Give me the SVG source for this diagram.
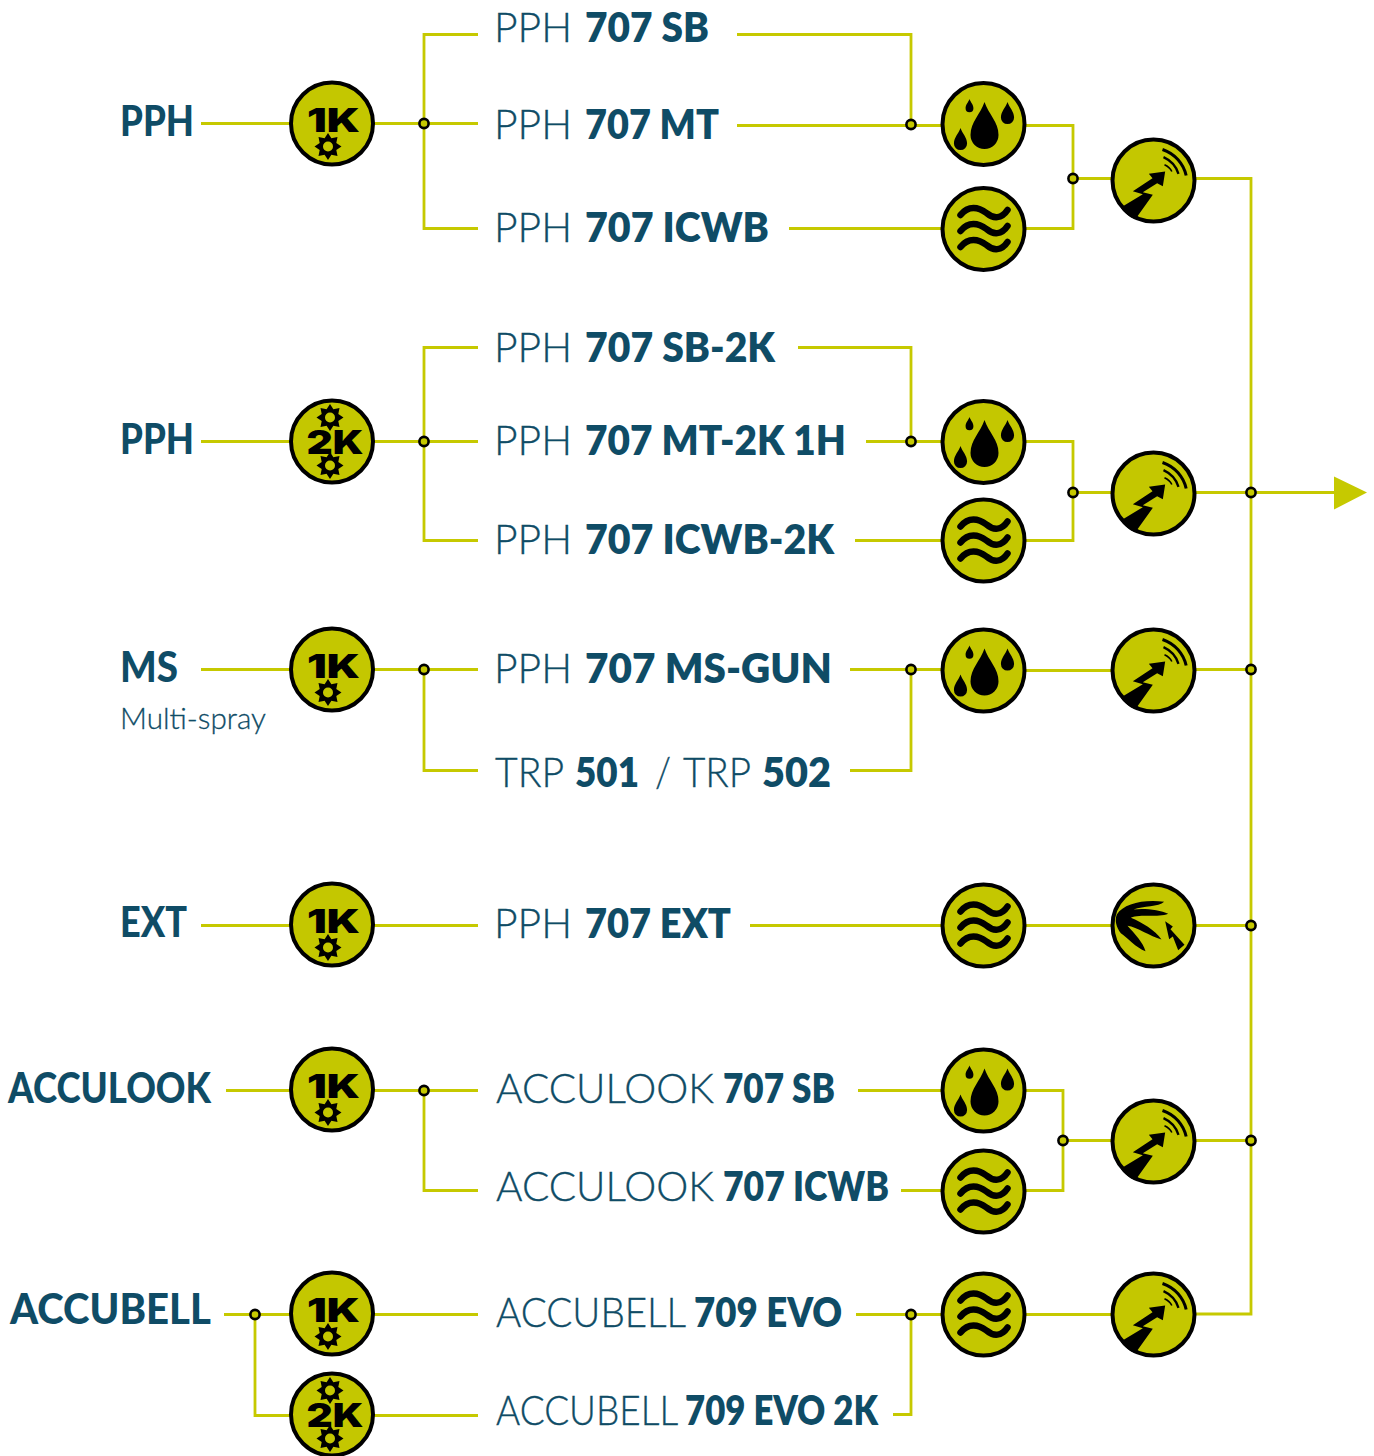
<svg xmlns="http://www.w3.org/2000/svg" xmlns:xlink="http://www.w3.org/1999/xlink" width="1374" height="1456" viewBox="0 0 1374 1456">
<style>
.c{fill:none;stroke:#c6c900;stroke-width:2.8}
.d{fill:#c6c900;stroke:#000;stroke-width:2.6}
.b{fill:#c4c700;stroke:#000;stroke-width:4}
.l{font-family:Lato,"Liberation Sans",sans-serif;font-size:41px;fill:#0f4c66;font-weight:300;stroke:#0f4c66;stroke-width:.35px}
.l .t{font-weight:800;stroke:none}
.h{font-family:Lato,"Liberation Sans",sans-serif;font-size:42px;fill:#0f4c66;font-weight:900}
.s{font-family:Lato,"Liberation Sans",sans-serif;font-size:29px;fill:#0f4c66;font-weight:300;stroke:#0f4c66;stroke-width:.3px}
.k{font-family:Inter,"Liberation Sans",sans-serif;font-size:33px;font-weight:900;fill:#000}
.w{fill:none;stroke:#000;stroke-width:6.500;stroke-linecap:round}
.a{fill:none;stroke:#000}
</style>
<defs>
<g id="gear"><path d="M0-13.500 3.400-8.300 9.500-9.500 8.300-3.400 13.500 0 8.300 3.400 9.500 9.500 3.400 8.300 0 13.500-3.400 8.300-9.500 9.500-8.300 3.400-13.500 0-8.300-3.400-9.500-9.500-3.400-8.300Z"/><circle r="5" fill="#c4c700"/></g>
<circle id="disc" class="b" r="41"/>
<path id="drop" d="M0 0C4 12 14 20 14 33A14 14 0 0 1-14 33C-14 20-4 12 0 0Z"/>
<g id="i1k"><use xlink:href="#disc"/><use xlink:href="#gear" x="-4" y="23"/></g>
<g id="i2k"><use xlink:href="#disc"/><use xlink:href="#gear" x="-2" y="-24"/><use xlink:href="#gear" x="-2" y="24"/></g>
<g id="idrops"><use xlink:href="#disc"/><use xlink:href="#drop" transform="translate(1 -22)"/><use xlink:href="#drop" transform="translate(-23 4) scale(.47)"/><use xlink:href="#drop" transform="translate(-14 -25) scale(.28)"/><use xlink:href="#drop" transform="translate(24 -22) scale(.47)"/></g>
<g id="iwave"><use xlink:href="#disc"/><path class="w" d="M-23-14C-15-24-5-22 3-16 10-10 18-10 24-19"/><path class="w" d="M-23 2C-15-8-5-6 3 0 10 6 18 6 24-3"/><path class="w" d="M-23 18C-15 8-5 10 3 16 10 22 18 22 24 13"/></g>
<g id="ispray"><use xlink:href="#disc"/><g transform="scale(.3333) translate(-160 -145)"><path d="M195 118 146 125 157 138 98 177 128 186 62 226C75 245 88 255 105 262L158 188 128 180 171 153 188 162Z"/><path class="a" stroke-width="9" d="M187 52C225 65 250 95 258 130"/><path class="a" stroke-width="7" d="M190 75C212 85 228 103 235 125"/><path class="a" stroke-width="5" d="M193 98C204 103 211 110 215 118"/></g></g>
<g id="ifan"><use xlink:href="#disc"/><g transform="scale(.3333) translate(-160 -145)"><path d="M50 112C70 80 130 66 192 74 175 90 130 86 100 97 130 92 180 98 204 110 175 122 120 110 92 122 125 135 165 160 184 187 150 178 110 150 82 146 105 172 128 195 136 222 108 212 80 180 62 168 48 150 43 130 50 112Z"/><path d="M195 132 218 148 211 156 253 203 234 219 218 178 207 186Z"/></g></g>
</defs>
<g id="connectors" transform="translate(0 .5)">
<path class="c" d="M201 123H290M374 123H478M478 34H424V228H478M737 34H911V124M737 125H942M1026 125H1073V228H1026M942 228H789M1073 178H1112M1195 178H1251V1313.500H1195"/>
<path class="c" d="M201 441H290M374 441H478M478 347H424V540H478M798 347H911V441M866 441H942M1026 441H1073V540H1026M942 540H855M1073 492H1112M1195 492H1335"/>
<path class="c" d="M201 669H290M374 669H478M424 669V770H478M850 669H942M911 669V770H850M1025 670H1112M1195 669H1251"/>
<path class="c" d="M201 925H290M374 925H478M750 925H942M1025 925H1112M1195 925H1251"/>
<path class="c" d="M226 1090H290M374 1090H478M424 1090V1190H478M858 1090H942M1025 1090H1063V1190H1025M942 1190H901M1063 1140H1112M1195 1140H1251"/>
<path class="c" d="M224 1314H290M255 1314V1415H290M374 1314H478M374 1415H478M856 1314H942M911 1314V1414H893M1025 1314H1112"/>
<polygon points="1334,476 1367,492 1334,509" fill="#c6c900"/>
<g id="dots">
<circle class="d" r="4.600" cx="424" cy="123"/><circle class="d" r="4.600" cx="911" cy="124"/><circle class="d" r="4.600" cx="1073" cy="178"/>
<circle class="d" r="4.600" cx="424" cy="441"/><circle class="d" r="4.600" cx="911" cy="441"/><circle class="d" r="4.600" cx="1073" cy="492"/><circle class="d" r="4.600" cx="1251" cy="492"/>
<circle class="d" r="4.600" cx="424" cy="669"/><circle class="d" r="4.600" cx="911" cy="669"/><circle class="d" r="4.600" cx="1251" cy="669"/>
<circle class="d" r="4.600" cx="1251" cy="925"/>
<circle class="d" r="4.600" cx="424" cy="1090"/><circle class="d" r="4.600" cx="1063" cy="1140"/><circle class="d" r="4.600" cx="1251" cy="1140"/>
<circle class="d" r="4.600" cx="255" cy="1314"/><circle class="d" r="4.600" cx="911" cy="1314"/>
</g>
</g>
<g id="group-labels">
<text class="h" x="120" y="136" textLength="74" lengthAdjust="spacingAndGlyphs">PPH</text>
<text class="h" x="120" y="454" textLength="74" lengthAdjust="spacingAndGlyphs">PPH</text>
<text class="h" x="120" y="682" textLength="58" lengthAdjust="spacingAndGlyphs">MS</text>
<text class="s" x="120" y="729" textLength="146" lengthAdjust="spacingAndGlyphs">Multi-spray</text>
<text class="h" x="120" y="937" textLength="67" lengthAdjust="spacingAndGlyphs">EXT</text>
<text class="h" x="8" y="1103" textLength="203" lengthAdjust="spacingAndGlyphs">ACCULOOK</text>
<text class="h" x="10" y="1324" textLength="201" lengthAdjust="spacingAndGlyphs">ACCUBELL</text>
</g>
<g id="labels">
<text class="l" y="42"><tspan x="494" textLength="78" lengthAdjust="spacingAndGlyphs">PPH</tspan> <tspan class="t" x="585" textLength="124" lengthAdjust="spacingAndGlyphs">707 SB</tspan></text>
<text class="l" y="139"><tspan x="494" textLength="78" lengthAdjust="spacingAndGlyphs">PPH</tspan> <tspan class="t" x="585" textLength="134" lengthAdjust="spacingAndGlyphs">707 MT</tspan></text>
<text class="l" y="242"><tspan x="494" textLength="78" lengthAdjust="spacingAndGlyphs">PPH</tspan> <tspan class="t" x="585" textLength="184" lengthAdjust="spacingAndGlyphs">707 ICWB</tspan></text>
<text class="l" y="362"><tspan x="494" textLength="78" lengthAdjust="spacingAndGlyphs">PPH</tspan> <tspan class="t" x="585" textLength="190" lengthAdjust="spacingAndGlyphs">707 SB-2K</tspan></text>
<text class="l" y="455"><tspan x="494" textLength="78" lengthAdjust="spacingAndGlyphs">PPH</tspan> <tspan class="t" x="585" textLength="261" lengthAdjust="spacingAndGlyphs">707 MT-2K 1H</tspan></text>
<text class="l" y="554"><tspan x="494" textLength="78" lengthAdjust="spacingAndGlyphs">PPH</tspan> <tspan class="t" x="585" textLength="249" lengthAdjust="spacingAndGlyphs">707 ICWB-2K</tspan></text>
<text class="l" y="683"><tspan x="494" textLength="78" lengthAdjust="spacingAndGlyphs">PPH</tspan> <tspan class="t" x="585" textLength="247" lengthAdjust="spacingAndGlyphs">707 MS-GUN</tspan></text>
<text class="l" y="787"><tspan x="495" textLength="68" lengthAdjust="spacingAndGlyphs">TRP</tspan> <tspan class="t" x="575" textLength="64" lengthAdjust="spacingAndGlyphs">501</tspan> <tspan x="655" textLength="16" lengthAdjust="spacingAndGlyphs">/</tspan> <tspan x="683" textLength="67" lengthAdjust="spacingAndGlyphs">TRP</tspan> <tspan class="t" x="762" textLength="69" lengthAdjust="spacingAndGlyphs">502</tspan></text>
<text class="l" y="938"><tspan x="494" textLength="78" lengthAdjust="spacingAndGlyphs">PPH</tspan> <tspan class="t" x="585" textLength="146" lengthAdjust="spacingAndGlyphs">707 EXT</tspan></text>
<text class="l" y="1103"><tspan x="496" textLength="218" lengthAdjust="spacingAndGlyphs">ACCULOOK</tspan> <tspan class="t" x="723" textLength="112" lengthAdjust="spacingAndGlyphs">707 SB</tspan></text>
<text class="l" y="1201"><tspan x="496" textLength="218" lengthAdjust="spacingAndGlyphs">ACCULOOK</tspan> <tspan class="t" x="723" textLength="166" lengthAdjust="spacingAndGlyphs">707 ICWB</tspan></text>
<text class="l" y="1327"><tspan x="496" textLength="189" lengthAdjust="spacingAndGlyphs">ACCUBELL</tspan> <tspan class="t" x="694" textLength="148" lengthAdjust="spacingAndGlyphs">709 EVO</tspan></text>
<text class="l" y="1425"><tspan x="496" textLength="181" lengthAdjust="spacingAndGlyphs">ACCUBELL</tspan> <tspan class="t" x="685" textLength="193" lengthAdjust="spacingAndGlyphs">709 EVO 2K</tspan></text>
</g>
<g id="n-1k-a" transform="translate(332 123.500)"><use xlink:href="#i1k"/><text class="k" x="-25" y="8.500" textLength="53" lengthAdjust="spacingAndGlyphs">1K</text></g>
<g id="n-2k-a" transform="translate(332 441.500)"><use xlink:href="#i2k"/><text class="k" x="-25.500" y="12.500" textLength="57" lengthAdjust="spacingAndGlyphs">2K</text></g>
<g id="n-1k-b" transform="translate(332 669.500)"><use xlink:href="#i1k"/><text class="k" x="-25" y="8.500" textLength="53" lengthAdjust="spacingAndGlyphs">1K</text></g>
<g id="n-1k-c" transform="translate(332 924.500)"><use xlink:href="#i1k"/><text class="k" x="-25" y="8.500" textLength="53" lengthAdjust="spacingAndGlyphs">1K</text></g>
<g id="n-1k-d" transform="translate(332 1089.500)"><use xlink:href="#i1k"/><text class="k" x="-25" y="8.500" textLength="53" lengthAdjust="spacingAndGlyphs">1K</text></g>
<g id="n-1k-e" transform="translate(332 1313.500)"><use xlink:href="#i1k"/><text class="k" x="-25" y="8.500" textLength="53" lengthAdjust="spacingAndGlyphs">1K</text></g>
<g id="n-2k-b" transform="translate(332 1414.500)"><use xlink:href="#i2k"/><text class="k" x="-25.500" y="12.500" textLength="57" lengthAdjust="spacingAndGlyphs">2K</text></g>
<g id="n-drops-a" transform="translate(983.500 124)"><use xlink:href="#idrops"/></g>
<g id="n-wave-a" transform="translate(983.500 229)"><use xlink:href="#iwave"/></g>
<g id="n-drops-b" transform="translate(983.500 442)"><use xlink:href="#idrops"/></g>
<g id="n-wave-b" transform="translate(983.500 540.500)"><use xlink:href="#iwave"/></g>
<g id="n-drops-c" transform="translate(983.500 670.500)"><use xlink:href="#idrops"/></g>
<g id="n-wave-c" transform="translate(983.500 925.500)"><use xlink:href="#iwave"/></g>
<g id="n-drops-d" transform="translate(983.500 1090.500)"><use xlink:href="#idrops"/></g>
<g id="n-wave-d" transform="translate(983.500 1191.500)"><use xlink:href="#iwave"/></g>
<g id="n-wave-e" transform="translate(983.500 1314.500)"><use xlink:href="#iwave"/></g>
<g id="n-spray-a" transform="translate(1153.500 180.500)"><use xlink:href="#ispray"/></g>
<g id="n-spray-b" transform="translate(1153.500 493.500)"><use xlink:href="#ispray"/></g>
<g id="n-spray-c" transform="translate(1153.500 670.500)"><use xlink:href="#ispray"/></g>
<g id="n-fan" transform="translate(1153.500 925.500)"><use xlink:href="#ifan"/></g>
<g id="n-spray-d" transform="translate(1153.500 1141.500)"><use xlink:href="#ispray"/></g>
<g id="n-spray-e" transform="translate(1153.500 1314.500)"><use xlink:href="#ispray"/></g>
</svg>
